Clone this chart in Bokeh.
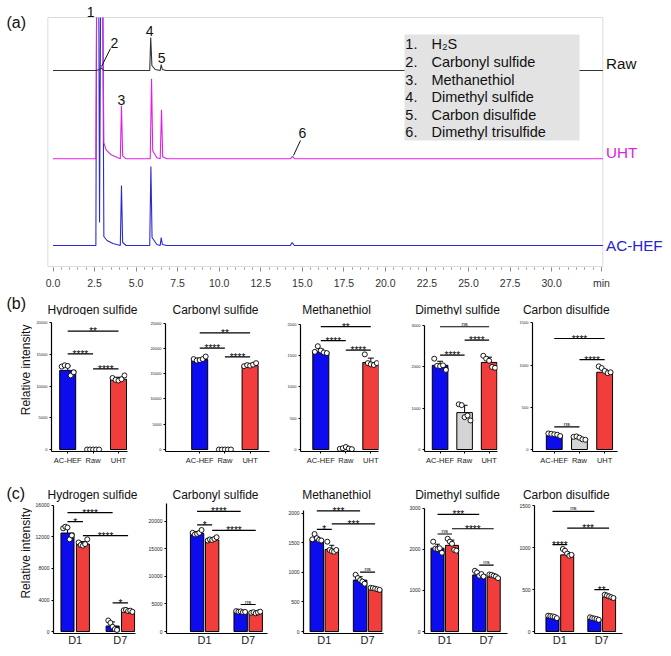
import numpy as np
from bokeh.plotting import figure
from bokeh.models import Range1d, FixedTicker, Label, BoxAnnotation, NumeralTickFormatter
from bokeh.layouts import column, row
from bokeh.embed import file_html
from bokeh.resources import INLINE

FONT = "Liberation Sans"

# ===================== DATA =====================
# (a) chromatograms: retention time (min) and signal above each trace's own baseline
raw_time = [0.0, 2.60, 2.80, 2.92, 3.05, 5.82, 5.88, 5.95, 6.15, 6.45, 6.51, 6.58, 6.80, 33.1]
raw_sig = [0, 0, 1, 2.5, 0, 0, 33, 5, 1, 0, 6, 1, 0, 0]
uht_time = [0.0, 2.58, 2.62, 3.00, 3.06, 3.20, 3.50, 3.90, 4.05, 4.12, 4.19, 4.40,
            5.85, 5.93, 6.00, 6.25, 6.45, 6.53, 6.60, 6.85, 14.30, 14.40, 14.55, 33.1]
uht_sig = [0, 0, 400, 400, 16, 9, 4, 1, 0, 53, 3, 0,
           0, 80, 8, 1, 0, 49, 2, 0, 0, 2.5, 0, 0]
ac_time = [0.0, 2.58, 2.62, 2.76, 2.80, 2.86, 3.00, 3.06, 3.25, 3.60, 3.95, 4.05, 4.12, 4.19, 4.40,
           5.82, 5.89, 5.96, 6.25, 6.45, 6.51, 6.58, 6.85, 14.28, 14.39, 14.52, 33.1]
ac_sig = [0, 0, 400, 400, 23, 400, 400, 9, 5, 2, 0.5, 0, 60, 3, 0,
          0, 79, 8, 1, 0, 8, 1, 0, 0, 3, 0, 0]
trace_names = ["Raw", "UHT", "AC-HEF"]
compound_list = ["H\u2082S", "Carbonyl sulfide", "Methanethiol", "Dimethyl sulfide",
                 "Carbon disulfide", "Dimethyl trisulfide"]
time_ticks = [0.0, 2.5, 5.0, 7.5, 10.0, 12.5, 15.0, 17.5, 20.0, 22.5, 25.0, 27.5, 30.0, 33.0]

# (b) AC-HEF / Raw / UHT
b_categories = ["AC-HEF", "Raw", "UHT"]
titles = ["Hydrogen sulfide", "Carbonyl sulfide", "Methanethiol", "Dimethyl sulfide", "Carbon disulfide"]

h2s_mean = [12500, 0, 11100]
h2s_pts = [[13100, 13300, 13200, 11700, 12200], [0, 0, 0, 0, 0], [11300, 11000, 10900, 11100, 11700]]
h2s_sig = [(0, 2, 18700, "**"), (0, 1, 15100, "****"), (1, 2, 12750, "****")]
h2s_yticks = [0, 5000, 10000, 15000, 20000]

cos_mean = [17800, 0, 16600]
cos_pts = [[17900, 17600, 17700, 17900, 18400], [0, 0, 0, 0, 0], [16500, 16700, 16600, 16800, 17100]]
cos_sig = [(0, 2, 23090, "**"), (0, 1, 20050, "****"), (1, 2, 18340, "****")]
cos_yticks = [0, 5000, 10000, 15000, 20000, 25000]

mt_mean = [1560, 15, 1390]
mt_pts = [[1560, 1650, 1580, 1550, 1540], [10, 20, 40, 15, 5], [1520, 1380, 1360, 1350, 1380]]
mt_sig = [(0, 2, 1963, "**"), (0, 1, 1738, "****"), (1, 2, 1588, "****")]
mt_yticks = [0, 500, 1000, 1500, 2000]

dms_mean = [2030, 890, 2100]
dms_pts = [[2190, 2020, 2010, 2030, 1920], [1090, 1070, 780, 820, 700], [2260, 2190, 2140, 1990, 1970]]
dms_sig = [(0, 2, 2960, "ns"), (0, 1, 2274, "****"), (1, 2, 2637, "****")]
dms_yticks = [0, 1000, 2000, 3000]

cs2_mean = [170, 130, 915]
cs2_pts = [[190, 185, 180, 175, 160], [150, 155, 140, 120, 115], [985, 965, 930, 905, 915]]
cs2_sig = [(0, 2, 1315, "****"), (1, 2, 1066, "****"), (0, 1, 268, "ns")]
cs2_yticks = [0, 500, 1000, 1500]

# (c) D1 / D7, AC-HEF (blue) vs UHT (red)
c_groups = ["D1", "D7"]
c_h2s_ac = [12500, 700]
c_h2s_uht = [11100, 2700]
c_h2s_ac_pts = [h2s_pts[0], [1400, 1100, 600, 300, 200]]
c_h2s_uht_pts = [h2s_pts[2], [2700, 2750, 2600, 2650, 2500]]
c_h2s_sig = [(0, 0, 1, 0, 15080, "****"), (0, 0, 0, 1, 13960, "*"), (0, 1, 1, 1, 12170, "****"), (1, 0, 1, 1, 3625, "*")]
c_h2s_yticks = [0, 4000, 8000, 12000, 16000]

c_cos_ac = [17800, 3600]
c_cos_uht = [16600, 3400]
c_cos_ac_pts = [cos_pts[0], [3700, 3600, 3650, 3500, 3550]]
c_cos_uht_pts = [cos_pts[2], [3400, 3500, 3300, 3450, 3600]]
c_cos_sig = [(0, 0, 1, 0, 21790, "****"), (0, 0, 0, 1, 19340, "*"), (0, 1, 1, 1, 18330, "****"), (1, 0, 1, 1, 4900, "ns")]
c_cos_yticks = [0, 5000, 10000, 15000, 20000]

c_mt_ac = [1560, 870]
c_mt_uht = [1390, 715]
c_mt_ac_pts = [mt_pts[0], [960, 905, 870, 845, 810]]
c_mt_uht_pts = [mt_pts[2], [740, 735, 725, 715, 705]]
c_mt_sig = [(0, 0, 1, 0, 2040, "***"), (0, 0, 0, 1, 1727, "*"), (0, 1, 1, 1, 1822, "***"), (1, 0, 1, 1, 1005, "ns")]
c_mt_yticks = [0, 500, 1000, 1500, 2000]

c_dms_ac = [2030, 1380]
c_dms_uht = [2100, 1330]
c_dms_ac_pts = [dms_pts[0], [1480, 1440, 1360, 1400, 1340]]
c_dms_uht_pts = [dms_pts[2], [1390, 1380, 1360, 1340, 1300]]
c_dms_sig = [(0, 0, 1, 0, 2856, "***"), (0, 0, 0, 1, 2376, "ns"), (0, 1, 1, 1, 2504, "****"), (1, 0, 1, 1, 1616, "ns")]
c_dms_yticks = [0, 1000, 2000, 3000]

c_cs2_ac = [170, 150]
c_cs2_uht = [915, 415]
c_cs2_ac_pts = [cs2_pts[0], [170, 160, 155, 150, 140]]
c_cs2_uht_pts = [cs2_pts[2], [440, 430, 420, 410, 400]]
c_cs2_sig = [(0, 0, 1, 0, 1434, "ns"), (0, 1, 1, 1, 1234, "***"), (0, 0, 0, 1, 1038, "****"), (1, 0, 1, 1, 501, "**")]
c_cs2_yticks = [0, 500, 1000, 1500]

# ===================== STYLE / LAYOUT =====================
BLUE = "#0c0cef"
RED = "#f23d3d"
GRAY = "#d4d4d4"
TRACE_COLORS = ["#333333", "#e21fe2", "#2b2bd4"]
LABEL_COLORS = ["#111111", "#e020e0", "#2424d0"]
BASELINES = [196, 107.7, 21]
FRAME_GRAY = "#8c8c8c"
Y_TOP = 249          # top edge of the chromatogram box (data units)
PX_PER_MIN = 16.62
T0_PX = 52.5         # x pixel of t = 0
TOTAL_W = 663
OFS = 8              # horizontal offset of all sub-plots


def clip_trace(t, s, base, cap):
    xs, ys = [], []
    for i in range(len(t)):
        y = s[i] + base
        if i > 0 and y >= cap and s[i - 1] + base >= cap:
            xs.append(np.nan)
            ys.append(np.nan)
        xs.append(t[i])
        ys.append(min(y, cap))
    return np.array(xs, dtype=float), np.array(ys, dtype=float)


def blank_fig(w, h):
    f = figure(width=w, height=h, x_range=Range1d(0, w), y_range=Range1d(0, h),
               output_backend="svg", toolbar_location=None, title=None,
               x_axis_location=None, y_axis_location=None, min_border=0)
    f.outline_line_color = None
    f.grid.visible = False
    return f


# ---------- panel (a) ----------
pa = figure(width=TOTAL_W, height=293,
            x_range=Range1d(-T0_PX / PX_PER_MIN, (TOTAL_W - T0_PX) / PX_PER_MIN), y_range=Range1d(-1, 266),
            output_backend="svg", toolbar_location=None, title=None, y_axis_location=None,
            min_border_left=0, min_border_right=0, min_border_top=0, min_border_bottom=26)
pa.grid.visible = False
pa.outline_line_color = None
ax = pa.xaxis[0]
ax.ticker = FixedTicker(ticks=time_ticks, minor_ticks=list(np.arange(0, 33.01, 0.5)))
ax.formatter = NumeralTickFormatter(format="0.0")
ax.major_label_overrides = {33.0: "min"}
ax.axis_line_color = None
ax.major_tick_line_color = FRAME_GRAY
ax.minor_tick_line_color = FRAME_GRAY
ax.major_tick_in = 0
ax.major_tick_out = 4
ax.minor_tick_in = 0
ax.minor_tick_out = 2
ax.major_label_standoff = 5
ax.major_label_text_font = FONT
ax.major_label_text_font_size = "10.5px"
ax.major_label_text_color = "#333333"

for t, s, base, col in [(ac_time, ac_sig, BASELINES[2], TRACE_COLORS[2]),
                        (uht_time, uht_sig, BASELINES[1], TRACE_COLORS[1]),
                        (raw_time, raw_sig, BASELINES[0], TRACE_COLORS[0])]:
    xs, ys = clip_trace(t, s, base, Y_TOP)
    pa.line(xs, ys, line_color=col, line_width=1.1)

pa.add_layout(BoxAnnotation(left=-0.31, right=33.08, bottom=0, top=Y_TOP,
                            fill_alpha=0, line_color=FRAME_GRAY, line_width=1))

for txt, x, y in [("1", 2.26, 255), ("2", 3.70, 224), ("3", 4.12, 167),
                  ("4", 5.81, 236), ("5", 6.53, 209), ("6", 15.01, 134)]:
    pa.add_layout(Label(x=x, y=y, text=txt, text_font=FONT, text_font_size="14px",
                        text_align="center", text_baseline="middle", text_color="#111111"))
pa.line([3.46, 2.92], [218, 200], line_color="#111111", line_width=1)
pa.line([14.89, 14.47], [126, 111], line_color="#111111", line_width=1)

pa.add_layout(BoxAnnotation(left=21.15, right=31.68, bottom=126, top=232,
                            fill_color="#e3e3e3", fill_alpha=1.0, line_alpha=0))
for k, (name, y) in enumerate(zip(compound_list, [223, 205, 187, 170, 152, 135])):
    pa.add_layout(Label(x=21.2, y=y, text=f"{k + 1}.", text_font=FONT, text_font_size="14.5px",
                        text_baseline="middle", text_color="#111111"))
    pa.add_layout(Label(x=22.77, y=y, text=name, text_font=FONT, text_font_size="14.5px",
                        text_baseline="middle", text_color="#111111"))
for name, y, col in zip(trace_names, [203, 114, 21], LABEL_COLORS):
    pa.add_layout(Label(x=33.28, y=y, text=name, text_font=FONT, text_font_size="15.2px",
                        text_baseline="middle", text_color=col))
pa.add_layout(Label(x=(6 - T0_PX) / PX_PER_MIN, y=244, text="(a)", text_font=FONT, text_font_size="16px",
                    text_baseline="middle", text_color="#111111"))

# ---------- helpers for (b), (c) ----------
STRIP_W = 24 + OFS
TITLE_X = [84 + OFS, 207 + OFS, 328 + OFS, 449 + OFS, 557.8 + OFS]


def title_fig(h, panel, panel_y, title_y):
    f = blank_fig(TOTAL_W, h)
    f.add_layout(Label(x=6, y=h - panel_y, text=panel, text_font=FONT, text_font_size="16px",
                       text_baseline="middle", text_color="#111111"))
    for tx, name in zip(TITLE_X, titles):
        f.add_layout(Label(x=tx, y=h - title_y, text=name, text_font=FONT, text_font_size="12px",
                           text_align="center", text_baseline="middle", text_color="#111111"))
    return f


def strip_fig(h, ylab_y):
    s = blank_fig(STRIP_W, h)
    s.add_layout(Label(x=17 + OFS, y=h - ylab_y, angle=np.pi / 2, text="Relative intensity", text_font=FONT,
                       text_font_size="12px", text_align="center", text_baseline="middle",
                       text_color="#111111"))
    return s


def base_fig(x0, w, h, left, right, mbb, zero_y, x_start, x_end, ypp, axis_top):
    frame_bottom = h - mbb
    ymin = -(frame_bottom - zero_y) * ypp
    p = figure(width=w, height=h, x_range=Range1d(x_start, x_end),
               y_range=Range1d(ymin, zero_y * ypp),
               output_backend="svg", toolbar_location=None, title=None,
               min_border_left=left - x0, min_border_right=x0 + w - right,
               min_border_top=0, min_border_bottom=mbb)
    p.grid.visible = False
    p.outline_line_color = None
    for a in (p.xaxis[0], p.yaxis[0]):
        a.axis_line_color = "black"
        a.axis_line_width = 1.2
        a.major_tick_line_color = "black"
        a.major_tick_in = 0
        a.major_tick_out = 2
        a.minor_tick_line_color = None
        a.major_label_text_font = FONT
        a.major_label_text_color = "#222222"
    p.yaxis[0].major_label_standoff = 2
    p.yaxis[0].bounds = (ymin, axis_top)
    return p


def add_sig(p, x1, x2, y, txt, ypp):
    p.segment(x0=[x1], y0=[y], x1=[x2], y1=[y], line_color="black", line_width=1.2)
    if txt == "ns":
        p.add_layout(Label(x=(x1 + x2) / 2, y=y + 3 * ypp, text=txt, text_font=FONT, text_color="black",
                           text_font_size="6px", text_align="center", text_baseline="alphabetic"))
    else:
        p.add_layout(Label(x=(x1 + x2) / 2, y=y - 0.5 * ypp, text=txt, text_font=FONT, text_color="black",
                           text_font_size="10px", text_align="center", text_baseline="alphabetic"))


def add_bars(p, xs, means, pts, colors, bw, cap, jit):
    p.vbar(x=xs, top=means, width=bw, bottom=0, fill_color=colors, line_color="black", line_width=1)
    ex, ey0, ey1 = [], [], []
    for x, m, vals in zip(xs, means, pts):
        sd = float(np.std(vals, ddof=1))
        if sd > 0:
            ex.append(x); ey0.append(m); ey1.append(m + sd)
    if ex:
        p.segment(x0=ex, y0=ey0, x1=ex, y1=ey1, line_color="black", line_width=1)
        p.segment(x0=[x - cap for x in ex], y0=ey1, x1=[x + cap for x in ex], y1=ey1,
                  line_color="black", line_width=1)
    px, py = [], []
    for x, vals in zip(xs, pts):
        for j, v in zip(jit, vals):
            px.append(x + j); py.append(v)
    p.scatter(px, py, size=5, marker="circle", fill_color="white", line_color="black", line_width=0.9)


def shifted(spec_list, keys):
    out = []
    for sp in spec_list:
        d = dict(sp)
        for k in keys:
            d[k] = d[k] + OFS
        out.append(d)
    return out


# ---------- panel (b) ----------
B_TH = 22                      # title strip height
B_H, B_BOT, B_ZERO = 155, 19, 134
b_specs = shifted([dict(x0=24, w=113, left=43, right=119, c0=59.2, step=25.4, tpx=126.6),
                   dict(x0=137, w=137, left=157, right=261, c0=191.2, step=25.2, tpx=126.3),
                   dict(x0=274, w=126, left=292, right=370, c0=312.3, step=25.0, tpx=125.2),
                   dict(x0=400, w=108, left=414, right=489, c0=430, step=25.2, tpx=124.4),
                   dict(x0=508, w=147, left=523, right=609, c0=545, step=25.5, tpx=126.6)],
                  ["x0", "left", "right", "c0"])
b_data = [(h2s_mean, h2s_pts, h2s_sig, h2s_yticks), (cos_mean, cos_pts, cos_sig, cos_yticks),
          (mt_mean, mt_pts, mt_sig, mt_yticks), (dms_mean, dms_pts, dms_sig, dms_yticks),
          (cs2_mean, cs2_pts, cs2_sig, cs2_yticks)]

b_figs = [strip_fig(B_H, 62)]
for k, (sp, (means, pts, sig, yt)) in enumerate(zip(b_specs, b_data)):
    step = sp["step"]
    xs0 = -(sp["c0"] - sp["left"]) / step
    xs1 = xs0 + (sp["right"] - sp["left"]) / step
    ypp = yt[-1] / sp["tpx"]
    p = base_fig(sp["x0"], sp["w"], B_H, sp["left"], sp["right"], B_BOT, B_ZERO, xs0, xs1, ypp, yt[-1])
    xs = list(range(len(b_categories)))
    add_bars(p, xs, means, pts, [BLUE, GRAY, RED], 16 / step, 3 / step,
             [d / step for d in (-6, -3, 0, 3, 6)])
    for i, j, y, txt in sig:
        add_sig(p, i, j, y, txt, ypp)
    p.xaxis[0].ticker = FixedTicker(ticks=xs)
    p.xaxis[0].major_label_overrides = {i: c for i, c in zip(xs, b_categories)}
    p.xaxis[0].major_label_text_font_size = "7.5px"
    p.xaxis[0].major_label_standoff = 2
    p.yaxis[0].ticker = FixedTicker(ticks=yt)
    p.yaxis[0].major_label_text_font_size = "4px"
    b_figs.append(p)

# ---------- panel (c) ----------
C_TH = 32
C_H, C_BOT, C_ZERO = 146, 13, 131
c_specs = shifted([dict(x0=24, w=113, left=42, right=127, g0=64.5, step=46.8, off=8.0, tpx=128, top=16000),
                   dict(x0=137, w=139, left=157, right=259, g0=195.5, step=44.0, off=7.6, tpx=112, top=23200),
                   dict(x0=276, w=122, left=295, right=375, g0=315.8, step=43.3, off=7.5, tpx=120, top=2050),
                   dict(x0=398, w=110, left=413, right=499, g0=434, step=43.2, off=7.5, tpx=125, top=3000),
                   dict(x0=508, w=147, left=523, right=614, g0=549.2, step=43.3, off=7.6, tpx=127.6, top=1500)],
                  ["x0", "left", "right", "g0"])
c_data = [(c_h2s_ac, c_h2s_uht, c_h2s_ac_pts, c_h2s_uht_pts, c_h2s_sig, c_h2s_yticks),
          (c_cos_ac, c_cos_uht, c_cos_ac_pts, c_cos_uht_pts, c_cos_sig, c_cos_yticks),
          (c_mt_ac, c_mt_uht, c_mt_ac_pts, c_mt_uht_pts, c_mt_sig, c_mt_yticks),
          (c_dms_ac, c_dms_uht, c_dms_ac_pts, c_dms_uht_pts, c_dms_sig, c_dms_yticks),
          (c_cs2_ac, c_cs2_uht, c_cs2_ac_pts, c_cs2_uht_pts, c_cs2_sig, c_cs2_yticks)]

c_figs = [strip_fig(C_H, 56.5)]
for k, (sp, (m_ac, m_uht, p_ac, p_uht, sig, yt)) in enumerate(zip(c_specs, c_data)):
    step = sp["step"]
    xs0 = -(sp["g0"] - sp["left"]) / step
    xs1 = xs0 + (sp["right"] - sp["left"]) / step
    ypp = yt[-1] / sp["tpx"]
    p = base_fig(sp["x0"], sp["w"], C_H, sp["left"], sp["right"], C_BOT, C_ZERO, xs0, xs1, ypp, sp["top"])
    off = sp["off"] / step
    gx = list(range(len(c_groups)))
    jit = [d / step for d in (-4.5, -2.25, 0, 2.25, 4.5)]
    add_bars(p, [g - off for g in gx], m_ac, p_ac, BLUE, 13.5 / step, 2.5 / step, jit)
    add_bars(p, [g + off for g in gx], m_uht, p_uht, RED, 13.5 / step, 2.5 / step, jit)
    for g1, s1, g2, s2, y, txt in sig:
        add_sig(p, g1 + (2 * s1 - 1) * off, g2 + (2 * s2 - 1) * off, y, txt, ypp)
    p.xaxis[0].ticker = FixedTicker(ticks=gx)
    p.xaxis[0].major_label_overrides = {g: c for g, c in zip(gx, c_groups)}
    p.xaxis[0].major_label_text_font_size = "11px"
    p.xaxis[0].major_tick_out = 0
    p.xaxis[0].major_label_standoff = 0
    p.yaxis[0].ticker = FixedTicker(ticks=yt)
    p.yaxis[0].major_label_text_font_size = "5px"
    c_figs.append(p)

layout = column(pa,
                title_fig(B_TH, "(b)", 10, 16), row(*b_figs),
                title_fig(C_TH, "(c)", 22.5, 24.3), row(*c_figs))
open("out.html", "w").write(file_html(layout, INLINE))
